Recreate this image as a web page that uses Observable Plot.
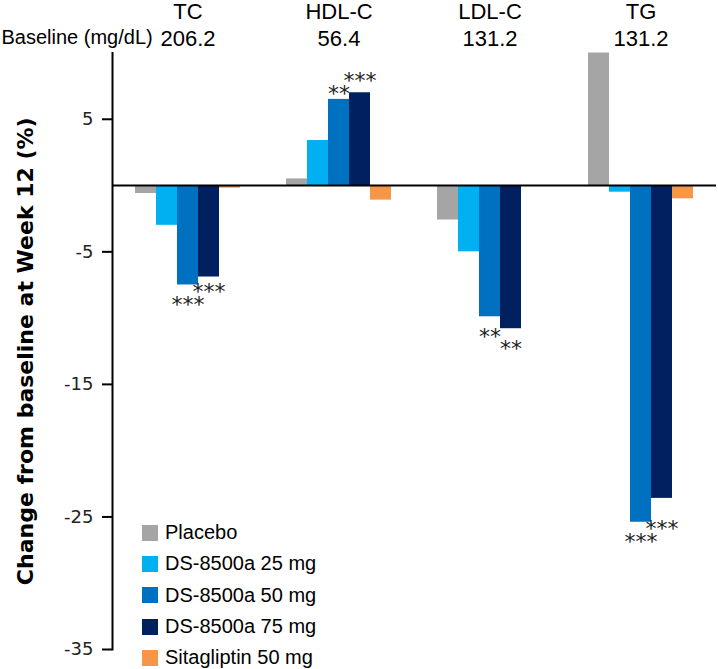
<!DOCTYPE html>
<html>
<head>
<meta charset="utf-8">
<script src="https://cdn.jsdelivr.net/npm/d3@7"></script>
<script src="https://cdn.jsdelivr.net/npm/@observablehq/plot@0.6"></script>
<style>
  body { margin: 0; background: #fff; }
  #wrap { position: relative; width: 718px; height: 669px; }
  #legend { position: absolute; left: 142px; top: 517px; font-family: "Liberation Sans", Arial, sans-serif; font-size: 20px; color: #000; }
  #legend .row { display: flex; align-items: center; height: 31.3px; }
  #legend .sw { width: 16px; height: 16px; margin-right: 7px; }
</style>
</head>
<body>
<div id="wrap"></div>
<script>
const groups = ["TC", "HDL-C", "LDL-C", "TG"];
const baselines = ["206.2", "56.4", "131.2", "131.2"];
const series = ["Placebo", "DS-8500a 25 mg", "DS-8500a 50 mg", "DS-8500a 75 mg", "Sitagliptin 50 mg"];
const colors = ["#a5a5a5", "#00b0f0", "#0070c0", "#002060", "#f79646"];

const placebo = [-0.6, 0.5, -2.6, 10.0];
const ds25 = [-3.0, 3.4, -5.0, -0.5];
const ds50 = [-7.5, 6.5, -9.9, -25.4];
const ds75 = [-6.9, 7.0, -10.8, -23.6];
const sitagliptin = [-0.2, -1.1, 0.0, -1.0];

const stars50 = ["***", "**", "**", "***"];
const stars75 = ["***", "***", "**", "***"];

const yTicks = [5, -5, -15, -25, -35];
const yLabel = "Change from baseline at Week 12 (%)";
const baselineLabel = "Baseline (mg/dL)";

const valuesBySeries = [placebo, ds25, ds50, ds75, sitagliptin];
const rows = [];
groups.forEach((g, gi) => {
  series.forEach((s, si) => rows.push({group: g, series: s, value: valuesBySeries[si][gi]}));
});
// Significance marks: the 75 mg marks are stacked beyond the 50 mg marks when they would collide
const starRows = [];
groups.forEach((g, gi) => {
  const neg = ds50[gi] < 0;
  starRows.push({group: g, series: series[2], anchor: ds50[gi], stars: stars50[gi], kind: neg ? "neg" : "pos"});
  const stacked = stars75[gi].length >= 3;
  starRows.push({group: g, series: series[3], anchor: stacked ? ds50[gi] : ds75[gi], stars: stars75[gi],
    kind: stacked ? (neg ? "negStack" : "posStack") : (neg ? "neg" : "pos")});
});
const headRows = groups.map((g, i) => ({group: g, baseline: baselines[i]}));

const sans = "Liberation Sans, Arial, sans-serif";
const dv = "DejaVu Sans, Verdana, sans-serif";
const starDy = {neg: 20, negStack: 7, pos: -5, posStack: -18};
const starMarks = Object.keys(starDy).map(k =>
  Plot.text(starRows.filter(d => d.kind === k), {fx: "group", x: "series", y: "anchor", text: "stars", dy: starDy[k], fontSize: 22, fontFamily: dv, fill: "#222"})
);

const chart = Plot.plot({
  width: 718,
  height: 669,
  marginLeft: 112,
  marginRight: 2,
  marginTop: 52.5,
  marginBottom: 20,
  style: {fontFamily: dv, fontSize: "16px", background: "#fff", overflow: "visible"},
  fx: {domain: groups, padding: 0, axis: null},
  x: {domain: series, paddingInner: 0, paddingOuter: 1, axis: null},
  y: {domain: [-35, 10], axis: null},
  color: {domain: series, range: colors},
  marks: [
    Plot.barY(rows, {fx: "group", x: "series", y: "value", fill: "series", inset: 0}),
    Plot.ruleY([0], {stroke: "#000", strokeWidth: 2}),
    Plot.frame({anchor: "left", facetAnchor: "left", stroke: "#000", strokeWidth: 2}),
    Plot.axisY({ticks: yTicks, tickSize: 10, tickPadding: 9, tickFormat: d => String(d), label: null, stroke: "#000", strokeWidth: 2, fill: "#222", fontSize: 18, fontFamily: dv}),
    ...starMarks,
    Plot.text(headRows, {fx: "group", text: "group", frameAnchor: "top", lineAnchor: "bottom", dy: -34, fontSize: 22, fontFamily: sans, fill: "#000"}),
    Plot.text(headRows, {fx: "group", text: "baseline", frameAnchor: "top", lineAnchor: "bottom", dy: -7.5, fontSize: 22, fontFamily: sans, fill: "#000"}),
    Plot.text([baselineLabel], {frameAnchor: "top-left", facetAnchor: "left", textAnchor: "start", lineAnchor: "bottom", dx: -111, dy: -9.5, fontSize: 20, fontFamily: sans, fill: "#000"}),
    Plot.text([yLabel], {frameAnchor: "left", facetAnchor: "left", textAnchor: "middle", rotate: -90, dx: -87, fontSize: 22, fontWeight: "bold", fontFamily: dv, fill: "#000"})
  ]
});

const wrap = document.getElementById("wrap");
wrap.appendChild(chart);

const legend = document.createElement("div");
legend.id = "legend";
series.forEach((s, i) => {
  const row = document.createElement("div");
  row.className = "row";
  const sw = document.createElement("span");
  sw.className = "sw";
  sw.style.background = colors[i];
  const lab = document.createElement("span");
  lab.textContent = s;
  row.appendChild(sw);
  row.appendChild(lab);
  legend.appendChild(row);
});
wrap.appendChild(legend);
</script>
</body>
</html>
